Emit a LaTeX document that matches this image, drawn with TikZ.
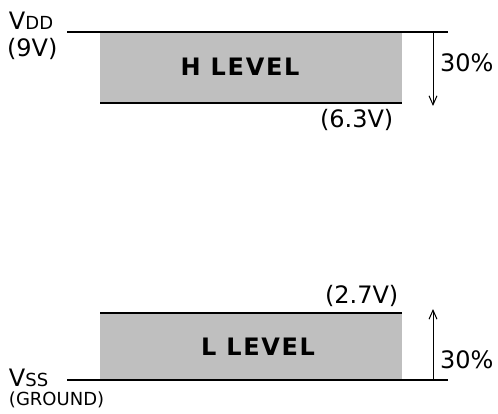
\documentclass[tikz,border=0pt]{standalone}
\usepackage{fontspec}
\setmainfont{DejaVu Sans}
\usetikzlibrary{arrows.meta}
\newcommand{\lbl}{\fontsize{24}{24}\selectfont}
\newcommand{\sub}{\fontsize{18}{18}\selectfont}
\newcommand{\lvl}{\fontsize{24}{24}\selectfont\bfseries\addfontfeatures{LetterSpace=7}}
\begin{document}
\begin{tikzpicture}[y=-1pt, x=1pt, inner sep=0pt, outer sep=0pt,
  band/.style={fill=black!25, draw=none},
  rail/.style={draw=black, line width=1.8pt},
  span/.style={draw=black, line width=1pt, -{Straight Barb[length=9pt, width=8pt]}}]
\useasboundingbox (0,0) rectangle (498,414);
% supply rails
\coordinate (vddL) at (67,32);
\coordinate (vddR) at (448,32);
\coordinate (vssL) at (67,380);
\coordinate (vssR) at (448,380);
% H level band
\path[band] (100,32) rectangle (402,103);
\coordinate (hL) at (100,103);
\coordinate (hR) at (402,103);
\draw[rail] (vddL) -- (vddR);
\draw[rail] (hL) -- (hR);
% L level band
\path[band] (100,313) rectangle (402,380);
\coordinate (lL) at (100,313);
\coordinate (lR) at (402,313);
\draw[rail] (lL) -- (lR);
\draw[rail] (vssL) -- (vssR);
% margins
\coordinate (hTop) at (433,32);
\coordinate (hEnd) at (433,106);
\coordinate (lBot) at (433,380);
\coordinate (lEnd) at (433,309);
\draw[span] (hTop) -- (hEnd);
\draw[span] (lBot) -- (lEnd);
% labels
\node[anchor=base west] (vdd) at (9,30) {\lbl V\sub DD};
\node[anchor=base west] (vddv) at (7,57) {\lbl (9V)};
\node[anchor=base west] (hpct) at (440,72) {\lbl 30\%};
\node (hlevel) at (240,67) {\lvl H LEVEL};
\node[anchor=base west] (vih) at (320,128) {\lbl (6.3V)};
\node[anchor=base west] (vil) at (325,303) {\lbl (2.7V)};
\node (llevel) at (258,347) {\lvl L LEVEL};
\node[anchor=base west] (lpct) at (440,368) {\lbl 30\%};
\node[anchor=base west] (vss) at (9,386) {\lbl V\sub SS};
\node[anchor=base west] (gnd) at (9,405) {\fontsize{18}{18}\selectfont (GROUND)};
\end{tikzpicture}
\end{document}
